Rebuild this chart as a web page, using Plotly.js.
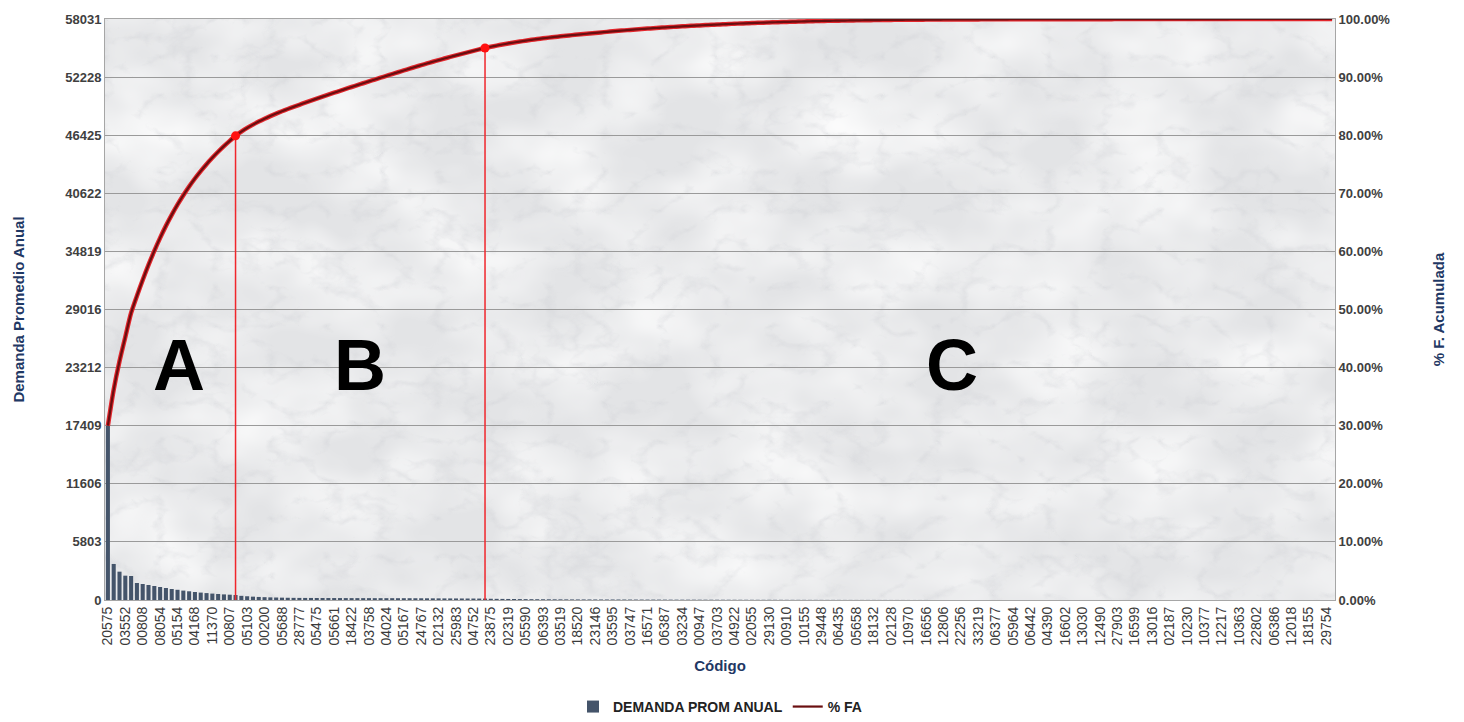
<!DOCTYPE html>
<html>
<head>
<meta charset="utf-8">
<script src="https://cdn.plot.ly/plotly-3.0.1.min.js"></script>
<style>
  html, body { margin: 0; padding: 0; background: #ffffff; }
  #chart { width: 1464px; height: 722px; }
</style>
</head>
<body>
<div id="chart"></div>
<script>
// Codes shown on the category axis (one label every 3 items)
const tickCodes = [
  "20575","03552","00808","08054","05154","04168","11370","00807","05103","00200",
  "05688","28777","05475","05661","18422","03758","04024","05167","24767","02132",
  "25983","04752","23875","02319","05590","06393","03519","18520","23146","03595",
  "03747","16571","06387","03234","00947","03703","04922","02055","29130","00910",
  "10155","29448","06435","05658","18132","02128","10970","16656","12806","22256",
  "33219","06377","05964","06442","04390","16602","13030","12490","27903","16599",
  "13016","02187","10230","10377","12217","10363","22802","06386","12018","18155",
  "29754"
];
const labelStep = 3;

const demand = [
  17409,
  3600, 2830, 2430, 2400,
  1700, 1600, 1500, 1400, 1300, 1200, 1100, 1020, 940, 870, 800, 740, 690, 640, 600, 560, 530, 500,
  415, 375, 335, 305, 283, 263, 248, 235, 223, 214, 209,
  206, 204, 201, 199, 197, 195, 193, 191, 189, 188, 187, 186, 185, 184, 183, 182, 180,
  180, 178, 176, 173, 170, 167, 164, 161, 158, 156, 153, 150, 147, 144, 141,
  125, 118, 110, 104, 98, 92, 87, 82, 78, 74, 70, 67, 64, 61, 58, 56,
  56, 55, 54, 53, 52, 51, 50, 48, 47, 45, 44, 42, 41, 39, 38, 36, 35,
  34, 33, 32, 31, 30, 29, 28, 27, 26, 25, 24, 23, 22, 21, 20, 20, 19, 19,
  18, 17, 16, 15, 14, 14, 13, 12, 12, 11, 10, 10, 9, 9, 8, 8, 7, 7, 6, 6, 6, 5,
  4, 4, 4,
  3, 3, 3, 3, 3,
  2, 2, 2, 2, 2, 2, 2, 2, 2, 2,
  1, 1, 1, 1, 1, 1, 1, 1, 1, 1,
  0.5, 0.5, 0.5, 0.5, 0.5, 0.5, 0.5, 0.5, 0.5, 0.5, 0.5, 0.5, 0.5, 0.5, 0.5, 0.5, 0.5, 0.5,
  0.5, 0.5, 0.5, 0.5, 0.5, 0.5, 0.5, 0.5, 0.5, 0.5, 0.5, 0.5, 0.5, 0.5,
  0, 0, 0, 0, 0, 0, 0, 0, 0, 0, 0, 0, 0
];
const classThresholds = [0.80, 0.95];
const classNames = ["A", "B", "C"];

// ---- derived ----
const n = demand.length;
const idx = demand.map((_, i) => i);
const total = demand.reduce((a, b) => a + b, 0);
let run = 0;
const cum = demand.map(v => { run += v; return run / total; });
const tickVals = tickCodes.map((_, k) => k * labelStep);
const leftTicks = [];
for (let k = 0; k <= 10; k++) leftTicks.push(Math.round(total * k / 10));

// boundary items: closest cumulative value to each threshold
const limits = classThresholds.map(t => {
  let best = 0;
  cum.forEach((c, i) => { if (Math.abs(c - t) < Math.abs(cum[best] - t)) best = i; });
  return best;
});

const FONT = "Liberation Sans, Arial, sans-serif";
const NAVY = "#1f3864";

const traces = [
  {
    type: "bar", x: idx, y: demand, name: "DEMANDA PROM ANUAL",
    marker: { color: "#44546a" }, hoverinfo: "y"
  }
];
limits.forEach(li => {
  traces.push({
    type: "scatter", mode: "lines", x: [li, li], y: [0, cum[li]], yaxis: "y2",
    line: { color: "#f0262c", width: 1.5 }, showlegend: false, hoverinfo: "skip"
  });
});
traces.push({
  type: "scatter", mode: "lines", x: idx, y: cum, yaxis: "y2",
  line: { color: "#e3262c", width: 4.5, shape: "spline", smoothing: 0.8 },
  showlegend: false, hoverinfo: "skip"
});
traces.push({
  type: "scatter", mode: "lines", x: idx, y: cum, yaxis: "y2", name: "% FA",
  line: { color: "#6a0e10", width: 2.2, shape: "spline", smoothing: 0.8 }
});
traces.push({
  type: "scatter", mode: "markers", x: limits, y: limits.map(li => cum[li]), yaxis: "y2",
  marker: { color: "#ff1010", size: 9 }, showlegend: false
});

// class letter positions: middle-ish of each region
const letterX = [
  limits[0] * 0.56,
  (limits[0] + limits[1]) / 2,
  (limits[1] + n) / 2 + 7
];
const annotations = classNames.map((t, k) => ({
  text: "<b>" + t + "</b>", x: letterX[k], y: 0.405, xref: "x", yref: "y2",
  showarrow: false, font: { family: FONT, size: 72, color: "#000000" }
}));

// marble-like texture for the plotting area
const svg =
  "<svg xmlns='http://www.w3.org/2000/svg' width='1230' height='581'>" +
  "<filter id='t' x='0' y='0' width='100%' height='100%'>" +
  "<feTurbulence type='turbulence' baseFrequency='0.018 0.026' numOctaves='4' seed='7'/>" +
  "<feColorMatrix type='matrix' values='0 0 0 0 0.62  0 0 0 0 0.63  0 0 0 0 0.66  -2.6 0 0 0 0.62'/>" +
  "</filter>" +
  "<filter id='c' x='0' y='0' width='100%' height='100%'>" +
  "<feTurbulence type='fractalNoise' baseFrequency='0.01 0.014' numOctaves='3' seed='2'/>" +
  "<feColorMatrix type='matrix' values='0 0 0 0 1  0 0 0 0 1  0 0 0 0 1  1.4 0 0 0 -0.45'/>" +
  "</filter>" +
  "<rect width='100%' height='100%' fill='#e3e4e6'/>" +
  "<rect width='100%' height='100%' filter='url(#c)'/>" +
  "<rect width='100%' height='100%' filter='url(#t)' opacity='0.6'/>" +
  "</svg>";

const layout = {
  width: 1464, height: 722,
  margin: { l: 105, r: 129, t: 19, b: 122, autoexpand: false },
  paper_bgcolor: "#ffffff",
  plot_bgcolor: "#e6e6e8",
  font: { family: FONT, color: "#404040" },
  bargap: 0.3,
  showlegend: true,
  legend: {
    orientation: "h", x: 0.5, xanchor: "center",
    yref: "container", y: 0.043, yanchor: "top",
    font: { family: FONT, size: 14, color: "#222222", weight: "bold" },
    traceorder: "normal"
  },
  images: [{
    source: "data:image/svg+xml;charset=utf-8," + encodeURIComponent(svg),
    xref: "paper", yref: "paper", x: 0, y: 1, sizex: 1, sizey: 1,
    sizing: "stretch", xanchor: "left", yanchor: "top", layer: "below"
  }],
  xaxis: {
    range: [-0.5, n - 0.5], automargin: false,
    tickmode: "array", tickvals: tickVals, ticktext: tickCodes,
    tickangle: -90, tickfont: { family: FONT, size: 14, color: "#3a3a3a" },
    showgrid: false, zeroline: false, showline: true, linecolor: "#a6a6a6", linewidth: 1,
    mirror: true, ticks: "",
    title: { text: "<b>Código</b>", font: { family: FONT, size: 15, color: NAVY }, standoff: 15 }
  },
  yaxis: {
    range: [0, total], automargin: false,
    tickmode: "array", tickvals: leftTicks, ticktext: leftTicks.map(String),
    tickfont: { family: FONT, size: 13, color: "#404040", weight: "bold" },
    showgrid: true, gridcolor: "#9a9a9a", gridwidth: 1,
    zeroline: false, showline: true, linecolor: "#a6a6a6", linewidth: 1, ticks: "",
    title: { text: "<b>Demanda Promedio Anual</b>", font: { family: FONT, size: 15, color: NAVY }, standoff: 36 }
  },
  yaxis2: {
    overlaying: "y", side: "right", automargin: false,
    range: [0, 1], tickmode: "linear", tick0: 0, dtick: 0.1, tickformat: ".2%",
    tickfont: { family: FONT, size: 13, color: "#404040", weight: "bold" },
    showgrid: false, zeroline: false, showline: true, linecolor: "#a6a6a6", linewidth: 1, ticks: "",
    title: { text: "<b>% F. Acumulada</b>", font: { family: FONT, size: 15, color: NAVY }, standoff: 44 }
  },
  annotations: annotations
};

Plotly.newPlot("chart", traces, layout, { displayModeBar: false, staticPlot: true });
</script>
</body>
</html>
